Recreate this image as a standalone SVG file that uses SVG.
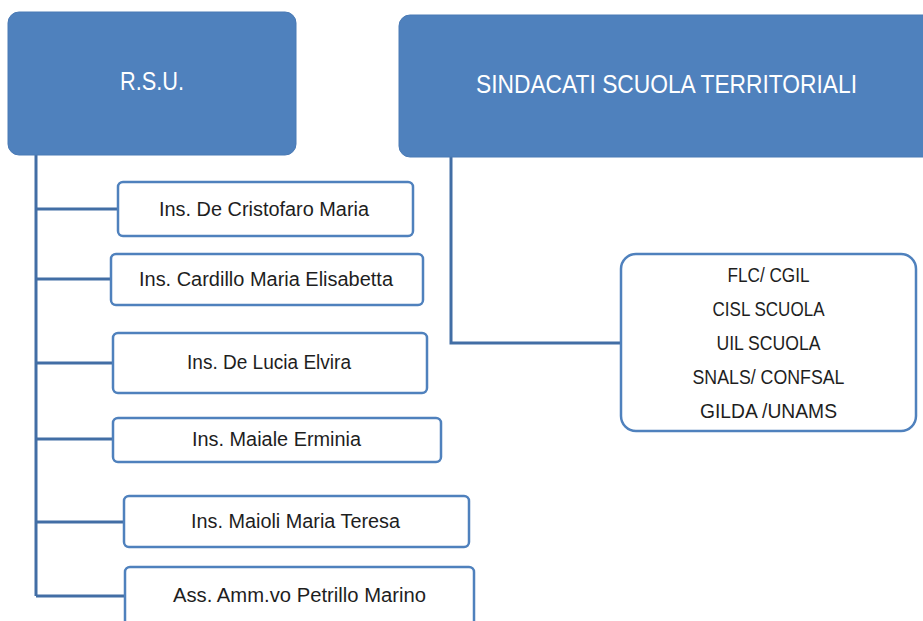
<svg xmlns="http://www.w3.org/2000/svg" width="923" height="621" viewBox="0 0 923 621">
<style>
.head{fill:#4f81bd;stroke:#4a7ab5;stroke-width:1}
.htxt{fill:#ffffff;font-family:"Liberation Sans",Arial,sans-serif;font-size:25px;text-anchor:middle}
.child{fill:#ffffff;stroke:#4f81bd;stroke-width:2.5}
.ctxt{fill:#1e1e1e;font-family:"Liberation Sans",Arial,sans-serif;font-size:20px;text-anchor:middle}
.conn{fill:none;stroke:#426ea5;stroke-width:3}
</style>
<rect width="923" height="621" fill="#ffffff"/>
<g id="connectors">
<path class="conn" d="M36,155 V596 M36,209 H118 M36,279 H112 M36,363 H114 M36,439 H114 M36,522 H125 M36,596 H126"/>
<path class="conn" d="M451,157 V343 H622"/>
</g>
<g id="rsu">
<rect class="head" x="8" y="12" width="288" height="143" rx="11"/>
<text class="htxt" x="152" y="90" textLength="64" lengthAdjust="spacingAndGlyphs">R.S.U.</text>
</g>
<g id="sindacati">
<rect class="head" x="399" y="15" width="540" height="142" rx="11"/>
<text class="htxt" x="666.5" y="93" textLength="381" lengthAdjust="spacingAndGlyphs">SINDACATI SCUOLA TERRITORIALI</text>
</g>
<g id="n1">
<rect class="child" x="118" y="182" width="295" height="54" rx="5"/>
<text class="ctxt" x="264" y="216" textLength="210" lengthAdjust="spacingAndGlyphs">Ins. De Cristofaro Maria</text>
</g>
<g id="n2">
<rect class="child" x="111" y="254" width="312" height="51" rx="5"/>
<text class="ctxt" x="266" y="286" textLength="254" lengthAdjust="spacingAndGlyphs">Ins. Cardillo Maria Elisabetta</text>
</g>
<g id="n3">
<rect class="child" x="113" y="333" width="314" height="60" rx="5"/>
<text class="ctxt" x="269" y="369" textLength="164" lengthAdjust="spacingAndGlyphs">Ins. De Lucia Elvira</text>
</g>
<g id="n4">
<rect class="child" x="113" y="418" width="328" height="44" rx="5"/>
<text class="ctxt" x="276.5" y="446" textLength="169" lengthAdjust="spacingAndGlyphs">Ins. Maiale Erminia</text>
</g>
<g id="n5">
<rect class="child" x="124" y="496" width="345" height="51" rx="5"/>
<text class="ctxt" x="295.5" y="528" textLength="209" lengthAdjust="spacingAndGlyphs">Ins. Maioli Maria Teresa</text>
</g>
<g id="n6">
<rect class="child" x="125" y="567" width="349" height="70" rx="5"/>
<text class="ctxt" x="299.5" y="602" textLength="253" lengthAdjust="spacingAndGlyphs">Ass. Amm.vo Petrillo Marino</text>
</g>
<g id="unions">
<rect class="child" x="621" y="254" width="295" height="177" rx="15"/>
<text class="ctxt" x="768.5" y="282" textLength="82" lengthAdjust="spacingAndGlyphs">FLC/ CGIL</text>
<text class="ctxt" x="768.5" y="316" textLength="112" lengthAdjust="spacingAndGlyphs">CISL SCUOLA</text>
<text class="ctxt" x="768.5" y="350" textLength="104" lengthAdjust="spacingAndGlyphs">UIL SCUOLA</text>
<text class="ctxt" x="768.5" y="384" textLength="152" lengthAdjust="spacingAndGlyphs">SNALS/ CONFSAL</text>
<text class="ctxt" x="768.5" y="418" textLength="137" lengthAdjust="spacingAndGlyphs">GILDA /UNAMS</text>
</g>
</svg>
